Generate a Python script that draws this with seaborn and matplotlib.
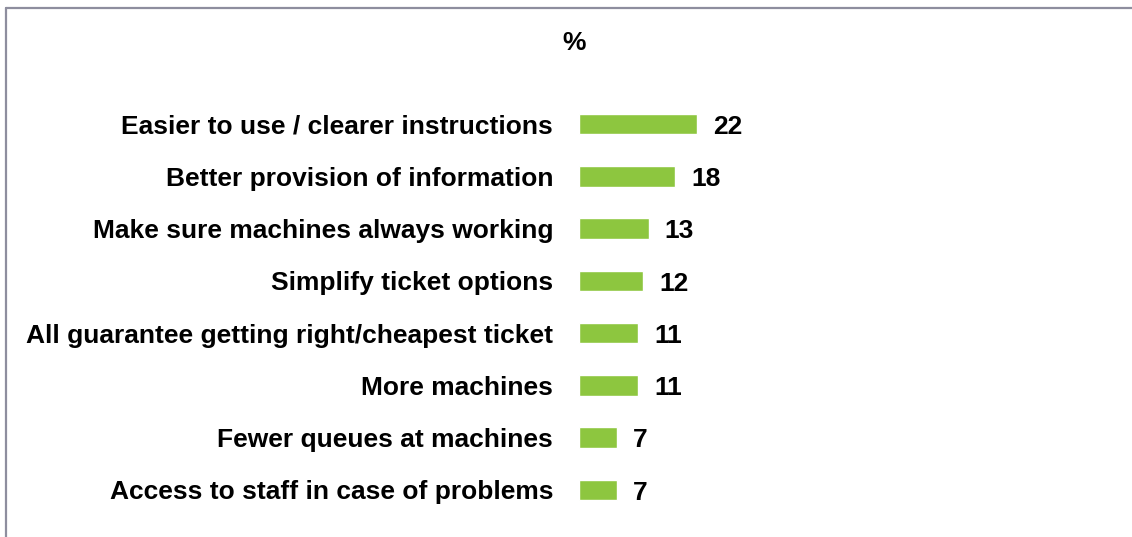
import matplotlib
matplotlib.use("Agg")
import matplotlib.pyplot as plt
import seaborn as sns
import pandas as pd
from matplotlib.lines import Line2D

# Chart data
categories = [
    "Easier to use / clearer instructions",
    "Better provision of information",
    "Make sure machines always working",
    "Simplify ticket options",
    "All guarantee getting right/cheapest ticket",
    "More machines",
    "Fewer queues at machines",
    "Access to staff in case of problems",
]
percent = [22, 18, 13, 12, 11, 11, 7, 7]

df = pd.DataFrame({"Category": categories, "Percent": percent})

sns.set_theme(style="white")
plt.rcParams["font.family"] = ["Liberation Sans", "DejaVu Sans"]

fig = plt.figure(figsize=(11.32, 5.37), dpi=100)
ax = fig.add_axes([0.5115, 0.039, 0.142, 0.7785])

sns.barplot(data=df, x="Percent", y="Category", orient="h",
            color="#8dc63f", width=0.39, saturation=1, ax=ax)

ax.set_xlim(0, 30)
ax.set_ylim(7.5, -0.5)
ax.set_xlabel("")
ax.set_ylabel("")
ax.set_xticks([])
ax.tick_params(axis="y", length=0, pad=18.7, labelsize=19)
for lbl in ax.get_yticklabels():
    lbl.set_fontweight("bold")
    lbl.set_color("black")
sns.despine(ax=ax, left=True, bottom=True)

# value labels
for i, v in enumerate(percent):
    ax.text(v + 3.0, i + 0.05, str(v), va="center", ha="left",
            fontsize=19, fontweight="bold", color="black")

fig.text(574 / 1132, 1 - 43 / 537, "%", ha="center", va="center",
         fontsize=19, fontweight="bold", color="black")

# frame lines (top and left)
border = "#8e8e9e"
fig.add_artist(Line2D([6 / 1132, 6 / 1132], [0, 1 - 7.5 / 537],
                      transform=fig.transFigure, color=border, lw=1.6))
fig.add_artist(Line2D([6 / 1132, 1], [1 - 7.5 / 537, 1 - 7.5 / 537],
                      transform=fig.transFigure, color=border, lw=1.6))

fig.savefig("out.png", dpi=100)
